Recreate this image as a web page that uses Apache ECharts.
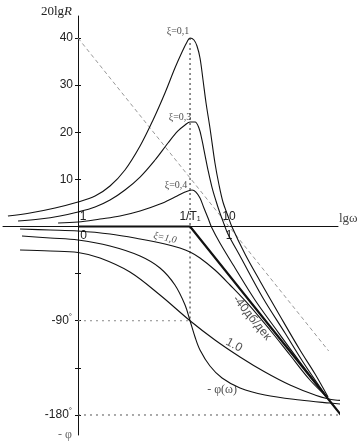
<!DOCTYPE html>
<html><head><meta charset="utf-8">
<script src="https://cdn.jsdelivr.net/npm/echarts@6/dist/echarts.min.js"></script>
<style>html,body{margin:0;padding:0;background:#fff}#c{width:363px;height:443px}</style>
</head><body><div id="c"></div>
<script>
// x values are lg(omega); amplitude in dB, phase in degrees
const lgResonance = 0.742; // lg(1/T1)
const ampXi01 = [[-0.464,2.23],[-0.318,2.86],[-0.152,3.93],[0,5.20],[0.113,6.47],[0.212,8.59],[0.311,11.99],[0.411,17.08],[0.497,22.60],[0.576,28.33],[0.642,33.63],[0.689,37.03],[0.722,39.15],[0.742,40.0],[0.768,39.58],[0.788,38.30],[0.808,35.76],[0.828,31.09],[0.848,26.21],[0.874,20.90],[0.907,13.48],[0.934,8.81],[0.960,5.20],[0.993,2.23],[1.020,-0.11],[1.106,-5.84],[1.205,-11.56],[1.338,-18.99],[1.470,-26.21],[1.570,-31.30],[1.656,-36.18]];
const ampXi03 = [[-0.397,1.17],[-0.252,1.59],[-0.119,2.23],[0,3.08],[0.113,4.14],[0.212,5.62],[0.311,7.75],[0.411,10.50],[0.510,14.11],[0.596,17.72],[0.662,20.27],[0.709,21.54],[0.742,22.18],[0.775,22.18],[0.801,20.90],[0.821,18.36],[0.841,15.17],[0.861,11.99],[0.887,8.38],[0.914,5.41],[0.940,2.86],[0.967,0.53],[0.993,-1.59],[1.073,-6.26],[1.225,-15.17],[1.371,-22.60],[1.503,-29.39],[1.649,-36.18]];
const ampXi04 = [[-0.132,0.74],[0,0.95],[0.146,1.59],[0.278,2.23],[0.411,3.29],[0.543,4.77],[0.642,6.26],[0.709,7.32],[0.755,7.75],[0.781,7.32],[0.808,6.05],[0.834,3.93],[0.861,1.80],[0.887,-0.32],[0.940,-3.50],[1.040,-8.81],[1.172,-15.60],[1.305,-21.54],[1.470,-28.75],[1.649,-36.18]];
const ampXi10 = [[-0.384,-0.53],[-0.185,-0.74],[0,-0.95],[0.212,-1.59],[0.411,-2.65],[0.576,-3.71],[0.675,-4.56],[0.742,-5.41],[0.808,-6.68],[0.907,-9.23],[1.007,-12.41],[1.139,-16.87],[1.272,-21.96],[1.404,-27.27],[1.536,-32.57],[1.649,-36.18]];
const asymptote = [[0,0],[0.742,0],[1.768,-41.06]];
const envelope = [[0,40],[1.66,-26.4]];
const phaseLowXi = [[-0.371,-9.07],[-0.185,-10.98],[0,-12.89],[0.212,-18.62],[0.411,-28.17],[0.543,-39.63],[0.642,-55.86],[0.709,-74.96],[0.742,-90],[0.775,-105.5],[0.808,-117.9],[0.874,-133.2],[0.954,-144.7],[1.073,-154.2],[1.238,-160.9],[1.470,-165.7],[1.669,-168.6],[1.881,-171.4]];
const phaseXi10 = [[-0.384,-22.5],[-0.185,-23.4],[0,-24.8],[0.146,-30.1],[0.344,-43.45],[0.543,-65.4],[0.742,-90],[0.907,-108.4],[1.073,-124.6],[1.238,-139.0],[1.404,-151.4],[1.570,-160.9],[1.702,-165.7],[1.881,-166.6]];
const dbTicks = [10,20,30,40];
const phaseTicks = [-45,-90,-135,-180];
const phaseTickLabels = [-90,-180];
const xTopTicks = [0, lgResonance, 1];
const xBottomTicks = [0, 1];

const SANS = 'Liberation Sans';
const SERIF = 'Liberation Serif';
const INK = '#111';

function curve(data, yAxisIndex, width) {
  return {type:'line', data, yAxisIndex, xAxisIndex:0, smooth:0.35, symbol:'none', clip:false,
    lineStyle:{color:INK, width:width||1.1}, silent:true, animation:false, z:3};
}
function note(pt, text, yAxisIndex, label) {
  return {type:'scatter', yAxisIndex, xAxisIndex:0, symbolSize:0, clip:false, silent:true, animation:false, z:5,
    data:[{value:pt, label:Object.assign({show:true, position:'inside', formatter:text, color:'#222',
      fontFamily:SERIF, fontSize:10}, label)}]};
}

// grid geometry
const G = {left:3, right:25, top:16, bottom:8};
const Y_AXIS_OFFSET = -75;     // y axis sits at lg(omega)=0
const X_AXIS_OFFSET = -208.5;  // x axis sits at 0 dB

const chart = echarts.init(document.getElementById('c'), null, {renderer:'canvas'});
const X = {min:-0.4967, max:1.7219};
const baseY = {type:'value', position:'left', offset:Y_AXIS_OFFSET, splitLine:{show:false}};
chart.setOption({
  backgroundColor:'#fff',
  animation:false,
  grid:Object.assign({containLabel:false, outerBoundsMode:'none'}, G),
  xAxis:[
    {type:'value', min:X.min, max:X.max, position:'bottom', offset:X_AXIS_OFFSET, splitLine:{show:false},
     axisLine:{show:true, onZero:false, lineStyle:{color:INK, width:1}},
     axisTick:{show:false},
     axisLabel:{show:true, inside:true, margin:4, customValues:xTopTicks,
       formatter:(v)=>{ if (Math.abs(v)<1e-6) return '{o|1}'; if (Math.abs(v-1)<1e-6) return '{t|10}'; return '{t|1/T}{s|1}'; },
       rich:{o:{fontFamily:SANS,fontSize:12,color:'#222',padding:[0,0,0,10]}, t:{fontFamily:SANS,fontSize:12,color:'#222'}, s:{fontFamily:SANS,fontSize:7,color:'#222',verticalAlign:'bottom',padding:[4,0,0,0]}}},
     name:'lgω', nameLocation:'end', nameGap:1,
     nameTextStyle:{fontFamily:SERIF, fontSize:13, color:'#444', align:'left', verticalAlign:'bottom', padding:[0,0,1,0]}},
    {type:'value', min:X.min, max:X.max, position:'bottom', offset:X_AXIS_OFFSET, splitLine:{show:false},
     axisLine:{show:false, onZero:false},
     axisTick:{show:false},
     axisLabel:{show:true, margin:3, customValues:xBottomTicks,
       formatter:(v)=> Math.abs(v)<1e-6 ? '{o|0}' : '{t|1}',
       rich:{o:{fontFamily:SANS,fontSize:12,color:'#222',padding:[0,0,0,11]}, t:{fontFamily:SANS,fontSize:12,color:'#222'}}}}
  ],
  yAxis:[
    Object.assign({}, baseY, {min:-44.24, max:44.67,
      axisLine:{show:true, onZero:false, lineStyle:{color:INK,width:1}},
      axisTick:{show:true, length:3, customValues:dbTicks, lineStyle:{color:INK}},
      axisLabel:{show:true, margin:5, customValues:dbTicks, fontFamily:SANS, fontSize:12, color:'#222'},
      name:'{a|20lg}{i|R}', nameLocation:'end', nameGap:4,
      nameTextStyle:{align:'right', verticalAlign:'middle', padding:[0,6,0,0],
        rich:{a:{fontFamily:SERIF,fontSize:13,color:'#222'}, i:{fontFamily:SERIF,fontSize:13,fontStyle:'italic',color:'#222'}}}}),
    Object.assign({}, baseY, {min:-199.1, max:201.0,
      axisLine:{show:false, onZero:false},
      axisTick:{show:true, length:3, customValues:phaseTicks, lineStyle:{color:INK}},
      axisLabel:{show:true, margin:6, customValues:phaseTickLabels,
        formatter:(v)=>'{n|'+v+'}{d|°}',
        rich:{n:{fontFamily:SANS,fontSize:12,color:'#222'}, d:{fontFamily:SANS,fontSize:8,color:'#222',padding:[0,0,8,0]}}},
      name:'- φ', nameLocation:'start', nameGap:0,
      nameTextStyle:{fontFamily:SERIF, fontSize:12, color:'#666', align:'right', verticalAlign:'middle', padding:[0,6,0,0]}}),
    Object.assign({}, baseY, {min:-44.24, max:44.67,
      axisLine:{show:false, onZero:false},
      axisTick:{show:true, inside:true, length:3, customValues:dbTicks, lineStyle:{color:INK}},
      axisLabel:{show:false}}),
    Object.assign({}, baseY, {min:-199.1, max:201.0,
      axisLine:{show:false, onZero:false},
      axisTick:{show:true, inside:true, length:3, customValues:phaseTicks, lineStyle:{color:INK}},
      axisLabel:{show:false}})
  ],
  series:[
    {type:'line', data:envelope, yAxisIndex:0, symbol:'none', clip:false, silent:true,
     lineStyle:{color:'#999', width:1, type:[4,3]}, z:2},
    {type:'line', data:[[lgResonance,40],[lgResonance,0]], yAxisIndex:0, symbol:'none', clip:false, silent:true,
     lineStyle:{color:'#222', width:1, type:[2,3]}, z:2},
    {type:'line', data:[[lgResonance,0],[lgResonance,-90]], yAxisIndex:1, symbol:'none', clip:false, silent:true,
     lineStyle:{color:'#222', width:1, type:[2,3]}, z:2},
    {type:'line', data:[[0,-90],[lgResonance,-90]], yAxisIndex:1, symbol:'none', clip:false, silent:true,
     lineStyle:{color:'#888', width:1, type:[2,4]}, z:2},
    {type:'line', data:[[0,-180],[1.848,-180]], yAxisIndex:1, symbol:'none', clip:false, silent:true,
     lineStyle:{color:'#555', width:1, type:[2,4]}, z:2},
    {type:'line', data:asymptote, yAxisIndex:0, symbol:'none', clip:false, silent:true,
     lineStyle:{color:INK, width:2.2}, z:4},
    curve(ampXi01,0), curve(ampXi03,0), curve(ampXi04,0), curve(ampXi10,0),
    curve(phaseLowXi,1), curve(phaseXi10,1),
    note([0.742,40.0], 'ξ=0,1', 0, {offset:[-12,-7]}),
    note([0.742,22.18], 'ξ=0,3', 0, {offset:[-10,-5]}),
    note([0.755,7.75], 'ξ=0,4', 0, {offset:[-16,-5]}),
    note([0.576,-2.44], 'ξ=1,0', 0, {rotate:-12, fontStyle:'italic'}),
    note([1.152,-19.4], '-40дб/дек', 0, {rotate:-51, fontFamily:SANS, fontSize:12}),
    note([1.033,-113.2], '1.0', 1, {rotate:-28, fontFamily:SANS, fontSize:12}),
    note([0.954,-144.7], '- φ(ω)', 1, {offset:[0,12], fontFamily:SERIF, fontSize:12})
  ]
});
</script></body></html>
